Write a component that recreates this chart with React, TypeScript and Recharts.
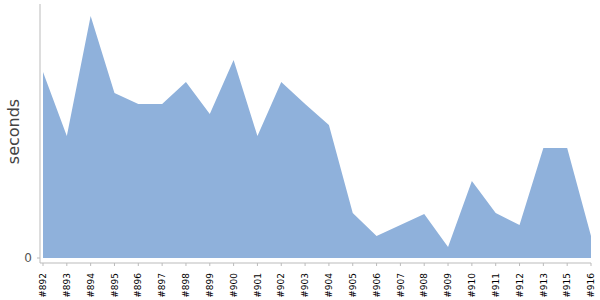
import React from 'react';
import { AreaChart, Area, XAxis, YAxis } from 'recharts';

const builds = ['#892','#893','#894','#895','#896','#897','#898','#899','#900','#901','#902','#903','#904','#905','#906','#907','#908','#909','#910','#911','#912','#913','#915','#916'];
const seconds = [18.6,12.2,24.2,16.5,15.4,15.4,17.6,14.4,19.8,12.2,17.6,15.4,13.3,4.5,2.2,3.3,4.4,1.1,7.7,4.5,3.3,11.0,11.0,2.2];
const yTicks = [0];

const data = builds.map((b, i) => ({ build: b, seconds: seconds[i] }));

const XTick = (props: any) => {
  const { x, y, payload } = props;
  return (
    <text
      transform={`translate(${x},${y + 5}) rotate(-90)`}
      textAnchor="end"
      dy="0.35em"
      fontSize={9}
      fontFamily="DejaVu Sans"
      fill="#000"
    >
      {payload.value}
    </text>
  );
};

const YLabel = (props: any) => {
  const { viewBox } = props;
  const cx = viewBox.x + 13;
  const cy = viewBox.y + viewBox.height / 2 - 2;
  return (
    <text
      transform={`translate(${cx},${cy}) rotate(-90)`}
      textAnchor="middle"
      dy="0.35em"
      fontSize={16}
      fontFamily="DejaVu Sans"
      fill="#444"
    >
      seconds
    </text>
  );
};

export default function App() {
  return (
    <div style={{ position: 'absolute', left: 0, top: 0, width: 600, height: 300, background: '#fff' }}>
      <AreaChart width={600} height={300} data={data} margin={{ top: 4, right: 9, bottom: 0, left: 0 }}>
        <XAxis
          dataKey="build"
          interval={0}
          height={37}
          tick={<XTick />}
          tickSize={3}
          stroke="#bbb"
          padding={{ left: 3, right: 0 }}
        />
        <YAxis
          width={40}
          domain={[0, 25.4]}
          ticks={yTicks}
          tickSize={3}
          tickMargin={5}
          stroke="#bbb"
          tick={{ fill: '#555', fontSize: 12, fontFamily: 'DejaVu Sans' }}
          padding={{ bottom: 5 }}
          label={<YLabel />}
        />
        <Area
          type="linear"
          dataKey="seconds"
          stroke="none"
          fill="#8fb1db"
          fillOpacity={1}
          isAnimationActive={false}
        />
      </AreaChart>
    </div>
  );
}
